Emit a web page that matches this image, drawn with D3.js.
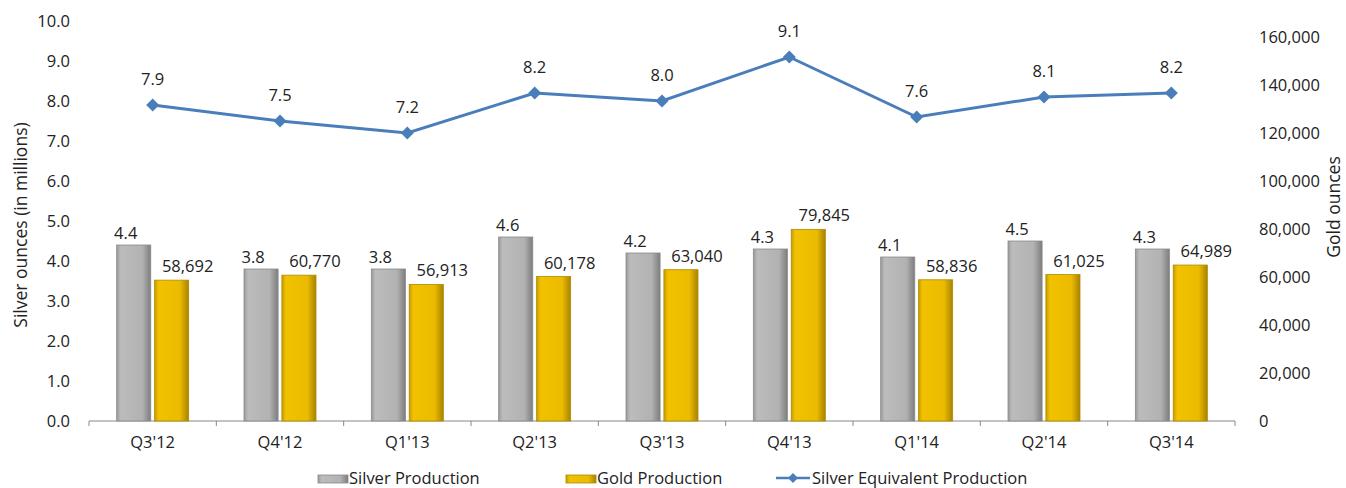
<!DOCTYPE html>
<html>
<head>
<meta charset="utf-8">
<script src="https://cdn.jsdelivr.net/npm/d3@7/dist/d3.min.js"></script>
<style>
  body { margin: 0; background: #fff; }
  text { font-family: "Open Sans", "DejaVu Sans", sans-serif; fill: #222; }
</style>
</head>
<body>
<svg width="1346" height="488"></svg>
<script>
const quarters = ["Q3'12", "Q4'12", "Q1'13", "Q2'13", "Q3'13", "Q4'13", "Q1'14", "Q2'14", "Q3'14"];
const silverProduction = [4.4, 3.8, 3.8, 4.6, 4.2, 4.3, 4.1, 4.5, 4.3];
const goldProduction = [58692, 60770, 56913, 60178, 63040, 79845, 58836, 61025, 64989];
const silverEquivalent = [7.9, 7.5, 7.2, 8.2, 8.0, 9.1, 7.6, 8.1, 8.2];
const leftTicks = [0, 1, 2, 3, 4, 5, 6, 7, 8, 9, 10];
const rightTicks = [0, 20000, 40000, 60000, 80000, 100000, 120000, 140000, 160000];

const data = quarters.map((q, i) => ({
    q,
    silver: silverProduction[i],
    gold: goldProduction[i],
    seq: silverEquivalent[i]
}));

const fontSize = '16.5px';
const margin = { left: 89, right: 111, top: 21, bottom: 67 };
const svg = d3.select('svg');
const width = +svg.attr('width');
const height = +svg.attr('height');
const innerWidth = width - margin.left - margin.right;
const innerHeight = height - margin.top - margin.bottom;

const defs = svg.append('defs');
const grad = (id, stops) => {
    const lg = defs.append('linearGradient').attr('id', id)
        .attr('x1', '0%').attr('x2', '100%').attr('y1', '0%').attr('y2', '0%');
    stops.forEach(([o, c]) => lg.append('stop').attr('offset', o).attr('stop-color', c));
};
grad('silverGrad', [['0%', '#9a9a9a'], ['12%', '#bcbcbc'], ['75%', '#b2b2b2'], ['100%', '#7d7d7d']]);
grad('goldGrad', [['0%', '#c89c00'], ['12%', '#f2c200'], ['75%', '#eabb00'], ['100%', '#a88200']]);

const g = svg.append('g')
    .attr('transform', `translate(${margin.left},${margin.top})`);

const xScale = d3.scaleBand().domain(quarters).range([0, innerWidth]);
const yLeft = d3.scaleLinear().domain([0, 10]).range([innerHeight, 0]);
const yRight = d3.scaleLinear().domain([0, 160000]).range([innerHeight, innerHeight - 384]);
const xInner = d3.scaleBand().domain(['silver', 'gold']).range([-36, 36]).paddingInner(0.1);
const cx = d => xScale(d.q) + xScale.bandwidth() / 2;

// left axis (labels only)
const yLeftAxis = d3.axisLeft(yLeft).tickValues(leftTicks)
    .tickFormat(d3.format('.1f')).tickSize(0).tickPadding(19);
const yLeftG = g.append('g').call(yLeftAxis)
    .attr('font-family', null).attr('font-size', fontSize);
yLeftG.select('.domain').remove();

// right axis
const yRightAxis = d3.axisRight(yRight).tickValues(rightTicks)
    .tickFormat(d3.format(',')).tickSize(0).tickPadding(24);
const yRightG = g.append('g').attr('transform', `translate(${innerWidth},0)`).call(yRightAxis)
    .attr('font-family', null).attr('font-size', fontSize);
yRightG.select('.domain').remove();

// x axis
const xAxisG = g.append('g').attr('transform', `translate(0,${innerHeight})`);
xAxisG.append('line').attr('x1', 0).attr('x2', innerWidth)
    .attr('stroke', '#888').attr('stroke-width', 1);
xAxisG.selectAll('.sep').data(d3.range(quarters.length + 1)).enter().append('line')
    .attr('x1', i => i * xScale.step()).attr('x2', i => i * xScale.step())
    .attr('y1', 0).attr('y2', 5).attr('stroke', '#888');
xAxisG.selectAll('.lbl').data(quarters).enter().append('text')
    .attr('x', d => xScale(d) + xScale.bandwidth() / 2)
    .attr('y', 27)
    .attr('text-anchor', 'middle')
    .style('font-size', fontSize)
    .text(d => d);

// bars
const groups = g.selectAll('.grp').data(data).enter().append('g')
    .attr('transform', d => `translate(${cx(d)},0)`);

groups.append('rect')
    .attr('x', xInner('silver'))
    .attr('width', xInner.bandwidth())
    .attr('y', d => yLeft(d.silver))
    .attr('height', d => innerHeight - yLeft(d.silver))
    .attr('fill', 'url(#silverGrad)')
    .attr('stroke', '#8a8a8a').attr('stroke-width', 0.8);

groups.append('rect')
    .attr('x', xInner('gold'))
    .attr('width', xInner.bandwidth())
    .attr('y', d => yRight(d.gold))
    .attr('height', d => innerHeight - yRight(d.gold))
    .attr('fill', 'url(#goldGrad)')
    .attr('stroke', '#b08a00').attr('stroke-width', 0.8);

groups.append('text')
    .attr('x', xInner('silver') + xInner.bandwidth() / 2 - 8)
    .attr('y', d => yLeft(d.silver) - 6)
    .attr('text-anchor', 'middle')
    .style('font-size', fontSize)
    .text(d => d3.format('.1f')(d.silver));

groups.append('text')
    .attr('x', xInner('gold') + xInner.bandwidth() / 2 + 16)
    .attr('y', d => yRight(d.gold) - 8)
    .attr('text-anchor', 'middle')
    .style('font-size', fontSize)
    .text(d => d3.format(',')(d.gold));

// line
const line = d3.line()
    .x(cx)
    .y(d => yLeft(d.seq));

g.append('path').datum(data)
    .attr('d', line)
    .attr('fill', 'none')
    .attr('stroke', '#4a7ebb')
    .attr('stroke-width', 3);

const diamondPath = r => `M0,${-r}L${r},0L0,${r}L${-r},0Z`;
g.selectAll('.pt').data(data).enter().append('path')
    .attr('d', diamondPath(6.5))
    .attr('transform', d => `translate(${cx(d)},${yLeft(d.seq)})`)
    .attr('fill', '#4a7ebb');

g.selectAll('.ptlbl').data(data).enter().append('text')
    .attr('x', cx)
    .attr('y', d => yLeft(d.seq) - 20)
    .attr('text-anchor', 'middle')
    .style('font-size', fontSize)
    .text(d => d3.format('.1f')(d.seq));

// axis titles
svg.append('text')
    .attr('transform', `translate(27,${margin.top + innerHeight / 2 + 4}) rotate(-90)`)
    .attr('text-anchor', 'middle')
    .style('font-size', '17.5px')
    .text('Silver ounces (in millions)');

svg.append('text')
    .attr('transform', `translate(1340,207) rotate(-90)`)
    .attr('text-anchor', 'middle')
    .style('font-size', '17.5px')
    .text('Gold ounces');

// legend
const legend = svg.append('g').attr('transform', 'translate(0,478)');
legend.append('rect').attr('x', 318).attr('y', -3).attr('width', 30).attr('height', 8)
    .attr('fill', 'url(#silverGrad)').attr('stroke', '#8a8a8a').attr('stroke-width', 0.8);
legend.append('text').attr('x', 349).attr('y', 6).style('font-size', fontSize).text('Silver Production');
legend.append('rect').attr('x', 566).attr('y', -3).attr('width', 30).attr('height', 8)
    .attr('fill', 'url(#goldGrad)').attr('stroke', '#b08a00').attr('stroke-width', 0.8);
legend.append('text').attr('x', 597).attr('y', 6).style('font-size', fontSize).text('Gold Production');
legend.append('line').attr('x1', 776).attr('x2', 810).attr('y1', 0).attr('y2', 0)
    .attr('stroke', '#4a7ebb').attr('stroke-width', 2.5);
legend.append('path').attr('d', diamondPath(5))
    .attr('transform', 'translate(793,0)').attr('fill', '#4a7ebb');
legend.append('text').attr('x', 812).attr('y', 6).style('font-size', fontSize).text('Silver Equivalent Production');
</script>
</body>
</html>
